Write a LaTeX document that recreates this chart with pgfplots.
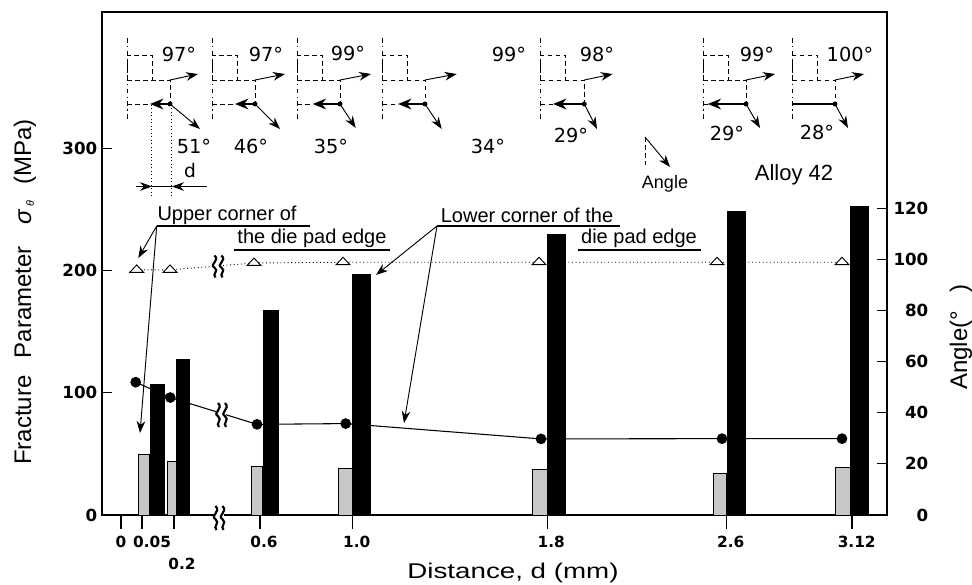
\documentclass[border=0pt]{standalone}
\usepackage{pgfplots}
\pgfplotsset{compat=1.18}
\usepackage{fontspec}
\setmainfont{Liberation Sans}
\newfontfamily\djf{DejaVu Sans}
\usetikzlibrary{arrows.meta,patterns}
\tikzset{arr/.style={-{Stealth[length=9pt,width=6.5pt]},line width=.7pt,black},
 dg/.style={font=\djf\fontsize{14.5}{14.5}\selectfont,inner sep=0pt},
 lb/.style={font=\fontsize{15}{15}\selectfont,inner sep=0pt}}
\pgfplotsset{base/.style={
  at={(76.5pt,52.5pt)},anchor=south west,scale only axis,
  width=588.75pt,height=377.25pt,
  xmin=102,xmax=887,clip=false,
  axis line style={line width=.8pt},
  tick style={line width=.8pt,black},
  major tick length=7.5pt,
  tick align=inside,
  /pgf/number format/assume math mode=true,
  ticklabel style={font=\djf\bfseries\fontsize{12.5}{12.5}\selectfont},
}}
\newcommand{\sch}[9]{%
  \draw[dash pattern=on 3.5pt off 2.5pt on 1pt off 2.5pt,line width=.6pt] (#1,38)--(#1,120);
  \draw[dash pattern=on 3.5pt off 2.5pt,line width=.6pt] (#1,80)--(#1,55)--(#1+25,55)--(#1+25,80);
  \draw[dash pattern=on 3.5pt off 2.5pt,line width=.6pt] (#1,80)--(#2,80)--(#2,104);
  \draw[dash pattern=on 3.5pt off 2.5pt,line width=.6pt] (#1,104)--(#3,104);
  \draw[arr] (#2,80)--(#4,74);
  \ifx#9a\draw[line width=1.7pt] (#2,104)--(#3,104);\else
  \draw[-{Stealth[length=10pt,width=8pt]},line width=1.7pt] (#2,104)--(#3,104);\fi
  \draw[arr] (#2,104)--(#5,#6);
  \fill (#2,104) circle[radius=2.5];
  \node[dg] at (#7) {#8};
}
\newcommand{\brk}[3]{%
  \fill[white] (#1-5,#2-#3) rectangle (#1+5,#2+#3);
  \draw[line width=1.6pt] (#1-3,#2-#3) .. controls (#1+3,#2-#3*.5) and (#1-9,#2-#3*.2) .. (#1-3,#2+#3*.1) .. controls (#1+2,#2+#3*.4) and (#1-6,#2+#3*.7) .. (#1-2,#2+#3);
  \draw[line width=1.6pt] (#1+4,#2-#3) .. controls (#1+10,#2-#3*.5) and (#1-2,#2-#3*.2) .. (#1+4,#2+#3*.1) .. controls (#1+9,#2+#3*.4) and (#1+1,#2+#3*.7) .. (#1+5,#2+#3);
}
\begin{document}
\begin{tikzpicture}
\useasboundingbox (0,0) rectangle (729pt,438.75pt);
\begin{axis}[base,ymin=0,ymax=197,
  ytick={0,20,40,60,80,100,120},ytick pos=right,yticklabel pos=right,
  xtick=\empty,
  yticklabel style={anchor=east,xshift=34.5pt},
]
\addplot[black,line width=.7pt,dotted,mark=triangle*,mark options={solid,fill=white,draw=black,line width=.7pt,mark size=6pt,yscale=.62}]
 coordinates {(136.7,96)(170,96)(254,98.7)(343,99)(539,99)(717,99)(842,99)};
\addplot[black,line width=.8pt,mark=*,mark options={fill=black,mark size=3.6pt}]
 coordinates {(135.7,52)(170.3,46)(257,35.5)(345.7,35.8)(541,29.8)(722,29.9)(842,29.9)};
\end{axis}
\begin{axis}[base,ymin=0,ymax=412,
  ytick=\empty,
  major tick length=10.5pt,
  xtick={121,142,174,260,352.7,547.3,726.7,852},
  xtick pos=bottom,xtick align=outside,
  xticklabels={0,\hspace*{15pt}0.05,\raisebox{-25pt}{\hspace*{12pt}0.2},\hspace*{6pt}0.6,\hspace*{6pt}1.0,\hspace*{6pt}1.8,\hspace*{6pt}2.6,\hspace*{7pt}3.12},
  xticklabel style={font=\djf\bfseries\fontsize{11.5}{11.5}\selectfont,yshift=-2pt},
]
\pgfplotsset{gb/.style={ybar,bar shift=0pt,fill=black!22,draw=black,line width=.6pt},
             kb/.style={ybar,bar shift=0pt,fill=black,draw=black,line width=.2pt}}
\addplot[gb,bar width=8.25pt] coordinates {(143.8,50)};
\addplot[gb,bar width=6.75pt] coordinates {(171.5,44)};
\addplot[gb,bar width=8.8pt] coordinates {(256.9,40)};
\addplot[gb,bar width=10.5pt] coordinates {(345,38)};
\addplot[gb,bar width=11.25pt] coordinates {(539.8,37)};
\addplot[gb,bar width=10pt] coordinates {(720,34)};
\addplot[gb,bar width=11pt] coordinates {(842.6,39)};
\addplot[kb,bar width=10.3pt] coordinates {(156.8,107)};
\addplot[kb,bar width=10pt] coordinates {(182.6,128)};
\addplot[kb,bar width=11.7pt] coordinates {(270.5,168)};
\addplot[kb,bar width=13.3pt] coordinates {(361.1,197)};
\addplot[kb,bar width=13.5pt] coordinates {(556.3,230)};
\addplot[kb,bar width=13.7pt] coordinates {(735.8,248.6)};
\addplot[kb,bar width=13.5pt] coordinates {(859,252.7)};
\end{axis}
\begin{axis}[base,ymin=0,ymax=412,
  ytick={0,100,200,300},ytick pos=left,xtick=\empty,
  axis line style={draw=none},
]
\end{axis}
\begin{scope}[x=.75pt,y=-.75pt,yshift=438.75pt]
\sch{127}{170}{150}{198}{200}{129}{179,54}{97°}{n}
\sch{212.3}{255}{235}{285}{280}{129}{266,54}{97°}{n}
\sch{297.3}{340}{312.7}{371}{355.7}{128}{348,53}{99°}{n}
\sch{382.7}{425}{398}{456.7}{441.7}{129}{509,54}{99°}{n}
\sch{540.7}{584.3}{553}{612.7}{597}{129}{597,54}{98°}{n}
\sch{703}{746}{707.7}{775}{760}{128}{757,54}{99°}{n}
\sch{792.7}{835}{792.7}{864}{848}{128}{850,54}{100°}{a}
\node[dg] at (194,146) {51°};
\node[dg] at (251,146) {46°};
\node[dg] at (331,146) {35°};
\node[dg] at (488,146) {34°};
\node[dg] at (571,135) {29°};
\node[dg] at (727,133) {29°};
\node[dg] at (817,132) {28°};
\draw[dash pattern=on 3.5pt off 2.5pt,line width=.6pt] (645,137)--(645,165);
\draw[arr] (645,137)--(670,167);
\node[lb,font=\fontsize{13.5}{13.5}\selectfont] at (665,184) {Angle};
\node[lb,font=\fontsize{16.5}{16.5}\selectfont] at (794,175) {Alloy 42};
\draw[dotted,line width=.6pt] (151,105)--(151,196);
\draw[dotted,line width=.6pt] (171,105)--(171,196);
\draw[arr] (136,186.5)--(152,186.5);
\draw[arr] (207,186.5)--(172,186.5);
\draw[line width=.7pt] (152,186.5)--(172,186.5);
\node[lb,font=\djf\fontsize{14}{14}\selectfont] at (190,171) {d};
\node[lb] at (227,215) {Upper corner of};
\draw[line width=.8pt] (156.7,226)--(310,226);
\node[lb] at (312,238) {the die pad edge};
\draw[line width=.8pt] (234,250)--(390,250);
\draw[arr] (156.7,226)--(138.3,258);
\draw[arr] (156.7,226)--(140,433);
\node[lb] at (527,215) {Lower corner of the};
\draw[line width=.8pt] (437,226)--(620,226);
\node[lb] at (639,238) {die pad edge};
\draw[line width=.8pt] (578,250)--(701,250);
\draw[arr] (437,226)--(376,275);
\draw[arr] (437,226)--(404,423);
\brk{217.5}{266.5}{11}
\brk{221}{415}{12}
\brk{218.5}{518}{12}
\node[font=\fontsize{16}{16}\selectfont,inner sep=0pt] at (513,573) {\scalebox{1.3}[1]{Distance,\ d\ (mm)}};
\node[rotate=90,font=\fontsize{18}{18}\selectfont,inner sep=0pt] at (25,292) {Fracture\hspace{13pt}Parameter\hspace{16pt}\textit{σ\,\raisebox{-2pt}{\footnotesize θ}}\hspace{12pt}(MPa)};
\node[rotate=90,font=\fontsize{18}{18}\selectfont,inner sep=0pt] at (961,337) {Angle(°\hspace{14pt})};
\end{scope}
\end{tikzpicture}
\end{document}
